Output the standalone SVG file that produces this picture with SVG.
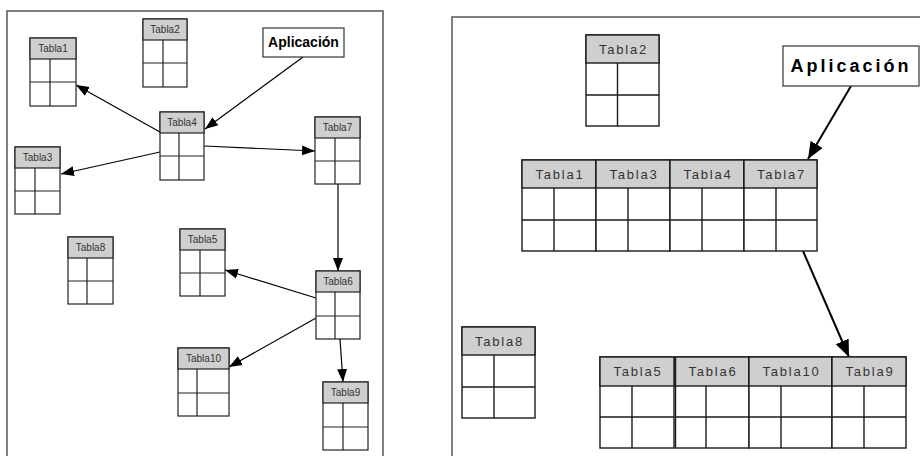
<svg xmlns="http://www.w3.org/2000/svg" width="920" height="456" viewBox="0 0 920 456">
<style>
.frame{fill:none;stroke:#555;stroke-width:1.5}
.hd{fill:#cfcfcf;stroke:#222;stroke-width:1.2}
.bd{fill:#fff;stroke:#222;stroke-width:1.2}
.ln{stroke:#222;stroke-width:1.2}
.hdR{fill:#cfcfcf;stroke:#1a1a1a;stroke-width:1.4}
.bdR{fill:#fff;stroke:#1a1a1a;stroke-width:1.4}
.lnR{stroke:#1a1a1a;stroke-width:1.4}
.tl{font-family:"Liberation Sans",Arial,sans-serif;font-size:10px;fill:#333;text-anchor:middle}
.tr{font-family:"Liberation Sans",Arial,sans-serif;font-size:13px;fill:#333;text-anchor:middle;letter-spacing:1.8px}
.app{font-family:"Liberation Sans",Arial,sans-serif;font-weight:bold;fill:#000;text-anchor:middle}
.box{fill:#fff;stroke:#333;stroke-width:1.2}
.ar{fill:none;stroke:#000;stroke-width:1.2}
.arR{fill:none;stroke:#000;stroke-width:2}
</style>
<defs>
<marker id="ah" markerUnits="userSpaceOnUse" markerWidth="14" markerHeight="12" viewBox="0 0 14 12" refX="13" refY="6" orient="auto">
<path d="M0,1 L13,6 L0,11 Z" fill="#000"/>
</marker>
<marker id="ahR" markerUnits="userSpaceOnUse" markerWidth="18" markerHeight="16" viewBox="0 0 18 16" refX="17" refY="8" orient="auto">
<path d="M0,1 L17,8 L0,15 Z" fill="#000"/>
</marker>
</defs>

<rect class="frame" x="7" y="11" width="376" height="460"/>
<rect class="frame" x="452" y="17" width="500" height="460"/>

<g id="connectors">
<line class="ar" x1="303" y1="57" x2="205" y2="129" marker-end="url(#ah)"/>
<line class="ar" x1="160" y1="132" x2="76" y2="85" marker-end="url(#ah)"/>
<line class="ar" x1="160" y1="152" x2="61" y2="174" marker-end="url(#ah)"/>
<line class="ar" x1="204" y1="146" x2="315" y2="151" marker-end="url(#ah)"/>
<line class="ar" x1="338" y1="184" x2="338" y2="271" marker-end="url(#ah)"/>
<line class="ar" x1="316" y1="298" x2="225" y2="270" marker-end="url(#ah)"/>
<line class="ar" x1="316" y1="318" x2="229" y2="367" marker-end="url(#ah)"/>
<line class="ar" x1="340" y1="339" x2="343" y2="382" marker-end="url(#ah)"/>
<line class="arR" x1="851" y1="86" x2="808" y2="159" marker-end="url(#ahR)"/>
<line class="arR" x1="803" y1="251" x2="849" y2="357" marker-end="url(#ahR)"/>
</g>

<g id="aplicacion-left">
<rect class="box" x="263" y="28" width="81" height="29"/>
<text class="app" x="303.5" y="47" font-size="14">Aplicación</text>
</g>

<g id="L-tabla1">
<rect class="bd" x="30" y="38" width="46" height="68"/>
<rect class="hd" x="30" y="38" width="46" height="21"/>
<line class="ln" x1="30" y1="82" x2="76" y2="82"/><line class="ln" x1="50" y1="59" x2="50" y2="106"/>
<text class="tl" x="53" y="52">Tabla1</text>
</g>
<g id="L-tabla2">
<rect class="bd" x="143" y="19" width="44" height="68"/>
<rect class="hd" x="143" y="19" width="44" height="21"/>
<line class="ln" x1="143" y1="63" x2="187" y2="63"/><line class="ln" x1="163" y1="40" x2="163" y2="87"/>
<text class="tl" x="165" y="33">Tabla2</text>
</g>
<g id="L-tabla4">
<rect class="bd" x="160" y="112" width="44" height="68"/>
<rect class="hd" x="160" y="112" width="44" height="21"/>
<line class="ln" x1="160" y1="156" x2="204" y2="156"/><line class="ln" x1="179" y1="133" x2="179" y2="180"/>
<text class="tl" x="182" y="126">Tabla4</text>
</g>
<g id="L-tabla3">
<rect class="bd" x="15" y="147" width="45" height="67"/>
<rect class="hd" x="15" y="147" width="45" height="21"/>
<line class="ln" x1="15" y1="191" x2="60" y2="191"/><line class="ln" x1="35" y1="168" x2="35" y2="214"/>
<text class="tl" x="37.5" y="161">Tabla3</text>
</g>
<g id="L-tabla7">
<rect class="bd" x="315" y="117" width="45" height="67"/>
<rect class="hd" x="315" y="117" width="45" height="21"/>
<line class="ln" x1="315" y1="161" x2="360" y2="161"/><line class="ln" x1="335" y1="138" x2="335" y2="184"/>
<text class="tl" x="337.5" y="131">Tabla7</text>
</g>
<g id="L-tabla8">
<rect class="bd" x="68" y="237" width="45" height="67"/>
<rect class="hd" x="68" y="237" width="45" height="21"/>
<line class="ln" x1="68" y1="281" x2="113" y2="281"/><line class="ln" x1="87" y1="258" x2="87" y2="304"/>
<text class="tl" x="90.5" y="251">Tabla8</text>
</g>
<g id="L-tabla5">
<rect class="bd" x="180" y="229" width="45" height="67"/>
<rect class="hd" x="180" y="229" width="45" height="21"/>
<line class="ln" x1="180" y1="273" x2="225" y2="273"/><line class="ln" x1="200" y1="250" x2="200" y2="296"/>
<text class="tl" x="202.5" y="243">Tabla5</text>
</g>
<g id="L-tabla10">
<rect class="bd" x="178" y="348" width="51" height="68"/>
<rect class="hd" x="178" y="348" width="51" height="21"/>
<line class="ln" x1="178" y1="393" x2="229" y2="393"/><line class="ln" x1="197" y1="369" x2="197" y2="416"/>
<text class="tl" x="203.5" y="362">Tabla10</text>
</g>
<g id="L-tabla6">
<rect class="bd" x="316" y="271" width="44" height="68"/>
<rect class="hd" x="316" y="271" width="44" height="21"/>
<line class="ln" x1="316" y1="316" x2="360" y2="316"/><line class="ln" x1="335" y1="292" x2="335" y2="339"/>
<text class="tl" x="338" y="285">Tabla6</text>
</g>
<g id="L-tabla9">
<rect class="bd" x="323" y="382" width="45" height="68"/>
<rect class="hd" x="323" y="382" width="45" height="21"/>
<line class="ln" x1="323" y1="427" x2="368" y2="427"/><line class="ln" x1="343" y1="403" x2="343" y2="450"/>
<text class="tl" x="345.5" y="396">Tabla9</text>
</g>

<g id="aplicacion-right">
<rect class="box" x="783" y="46" width="136" height="40"/>
<text class="app" x="851" y="72" font-size="18" letter-spacing="3">Aplicación</text>
</g>

<g id="R-tabla2">
<rect class="bdR" x="586" y="35" width="73" height="91"/>
<rect class="hdR" x="586" y="35" width="73" height="28"/>
<line class="lnR" x1="586" y1="95" x2="659" y2="95"/><line class="lnR" x1="617.5" y1="63" x2="617.5" y2="126"/>
<text class="tr" x="623.5" y="54">Tabla2</text>
</g>
<g id="R-tabla1">
<rect class="bdR" x="522" y="160" width="74" height="91"/>
<rect class="hdR" x="522" y="160" width="74" height="28"/>
<line class="lnR" x1="522" y1="220" x2="596" y2="220"/><line class="lnR" x1="554" y1="188" x2="554" y2="251"/>
<text class="tr" x="560" y="179">Tabla1</text>
</g>
<g id="R-tabla3">
<rect class="bdR" x="596" y="160" width="74" height="91"/>
<rect class="hdR" x="596" y="160" width="74" height="28"/>
<line class="lnR" x1="596" y1="220" x2="670" y2="220"/><line class="lnR" x1="628" y1="188" x2="628" y2="251"/>
<text class="tr" x="634" y="179">Tabla3</text>
</g>
<g id="R-tabla4">
<rect class="bdR" x="670" y="160" width="74" height="91"/>
<rect class="hdR" x="670" y="160" width="74" height="28"/>
<line class="lnR" x1="670" y1="220" x2="744" y2="220"/><line class="lnR" x1="702" y1="188" x2="702" y2="251"/>
<text class="tr" x="708" y="179">Tabla4</text>
</g>
<g id="R-tabla7">
<rect class="bdR" x="744" y="160" width="73" height="91"/>
<rect class="hdR" x="744" y="160" width="73" height="28"/>
<line class="lnR" x1="744" y1="220" x2="817" y2="220"/><line class="lnR" x1="776" y1="188" x2="776" y2="251"/>
<text class="tr" x="781.5" y="179">Tabla7</text>
</g>
<g id="R-tabla8">
<rect class="bdR" x="462" y="327" width="73" height="91"/>
<rect class="hdR" x="462" y="327" width="73" height="28"/>
<line class="lnR" x1="462" y1="387" x2="535" y2="387"/><line class="lnR" x1="494" y1="355" x2="494" y2="418"/>
<text class="tr" x="499.5" y="346">Tabla8</text>
</g>
<g id="R-tabla5">
<rect class="bdR" x="600" y="357" width="74" height="91"/>
<rect class="hdR" x="600" y="357" width="74" height="29"/>
<line class="lnR" x1="600" y1="417" x2="674" y2="417"/><line class="lnR" x1="632" y1="386" x2="632" y2="448"/>
<text class="tr" x="638" y="376">Tabla5</text>
</g>
<g id="R-tabla6">
<rect class="bdR" x="675.5" y="357" width="73.5" height="91"/>
<rect class="hdR" x="675.5" y="357" width="73.5" height="29"/>
<line class="lnR" x1="675.5" y1="417" x2="749" y2="417"/><line class="lnR" x1="706" y1="386" x2="706" y2="448"/>
<text class="tr" x="713" y="376">Tabla6</text>
</g>
<g id="R-tabla10">
<rect class="bdR" x="749" y="357" width="83" height="91"/>
<rect class="hdR" x="749" y="357" width="83" height="29"/>
<line class="lnR" x1="749" y1="417" x2="832" y2="417"/><line class="lnR" x1="781" y1="386" x2="781" y2="448"/>
<text class="tr" x="791.5" y="376">Tabla10</text>
</g>
<g id="R-tabla9">
<rect class="bdR" x="832" y="357" width="74" height="91"/>
<rect class="hdR" x="832" y="357" width="74" height="29"/>
<line class="lnR" x1="832" y1="417" x2="906" y2="417"/><line class="lnR" x1="864" y1="386" x2="864" y2="448"/>
<text class="tr" x="870" y="376">Tabla9</text>
</g>
</svg>
